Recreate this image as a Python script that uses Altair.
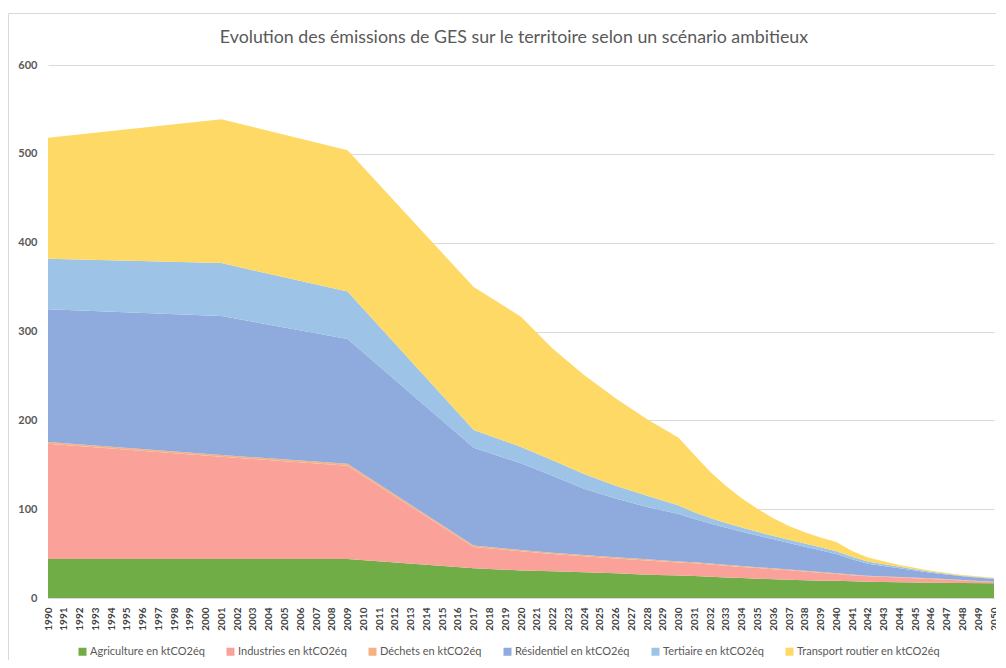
import altair as alt
import pandas as pd

years = [1990, 2001, 2009, 2017, 2020, 2022, 2024, 2026, 2028, 2030, 2031, 2032, 2033,
         2034, 2035, 2036, 2037, 2038, 2039, 2040, 2041, 2042, 2044, 2046, 2048, 2050]

agriculture = [44, 44, 44, 33.5, 31, 30, 29, 27.8, 26.2, 25.3, 24.8, 24, 23.2,
               22.5, 21.8, 21, 20.5, 19.9, 19.5, 19.3, 18.8, 18.2, 17.6, 17.3, 16.9, 16.5]
industries = [129.5, 115, 105, 24, 21.5, 19.5, 18, 16.6, 16, 14.7, 14.2, 13.7, 13.1,
              12.4, 11.9, 11.4, 10.6, 10, 8.9, 7.7, 6.8, 6.2, 5.4, 4.2, 2.9, 1.4]
dechets = [2, 2, 2, 1.5, 1.5, 1.5, 1.4, 1.4, 1.3, 1.2, 1.2, 1.1, 1.1,
           1.1, 1.0, 1.0, 1.0, 0.9, 0.9, 0.8, 0.8, 0.7, 0.6, 0.6, 0.5, 0.5]
residentiel = [149.5, 156.5, 140.5, 110, 97.6, 86.5, 74.6, 66.2, 59, 53.3, 48.8, 45.2, 41.6,
               38.7, 35.6, 32.6, 29.9, 27, 24.5, 21.7, 17.1, 13.4, 9.8, 6.4, 4.1, 3.0]
tertiaire = [57, 59.5, 53.5, 20, 18.5, 17.5, 16.5, 14.5, 12.5, 9.5, 7.5, 6, 5.3,
             4.8, 4.3, 3.8, 3.6, 3.5, 3.3, 3, 2.8, 2.5, 1.9, 1.1, 0.7, 0.7]
transport = [136, 162, 159, 161, 146.6, 126, 111.5, 98.3, 86.2, 76.3, 64.5, 52.2, 41.7,
             32.7, 25.9, 19.9, 15.4, 12.6, 10.9, 10.5, 6.7, 4.5, 1.9, 1.2, 0.8, 0.8]

series_names = [
    "Agriculture en ktCO2éq",
    "Industries en ktCO2éq",
    "Déchets en ktCO2éq",
    "Résidentiel en ktCO2éq",
    "Tertiaire en ktCO2éq",
    "Transport routier en ktCO2éq",
]
series_values = [agriculture, industries, dechets, residentiel, tertiaire, transport]
colors = ["#70AD47", "#FAA19A", "#F4B183", "#8FAADC", "#9DC3E6", "#FFD966"]

title_text = "Evolution des émissions de GES sur le territoire selon un scénario ambitieux"
year_ticks = list(range(1990, 2051))
y_ticks = [0, 100, 200, 300, 400, 500, 600]

rows = []
for i, (name, vals) in enumerate(zip(series_names, series_values)):
    for yr, v in zip(years, vals):
        rows.append({"annee": yr, "secteur": name, "valeur": v, "idx": i})
df = pd.DataFrame(rows)

FONT = "Lato, sans-serif"

areas = alt.Chart(df).mark_area(interpolate="linear").encode(
    x=alt.X("annee:Q",
            scale=alt.Scale(domain=[1990, 2050], nice=False, zero=False),
            axis=alt.Axis(values=year_ticks, format="d", labelAngle=270,
                          labelAlign="right", labelBaseline="middle",
                          labelFontSize=10, labelColor="#404040", labelPadding=9,
                          ticks=False, grid=False, domainColor="#d9d9d9",
                          labelOverlap=False, labelFlush=False, title=None,
                          labelFont=FONT, labelFontWeight="bold")),
    y=alt.Y("valeur:Q", stack="zero",
            scale=alt.Scale(domain=[0, 600], nice=False),
            axis=alt.Axis(values=y_ticks, grid=True, gridColor="#d9d9d9",
                          domain=False, ticks=False, labelPadding=11,
                          labelFontSize=11, labelColor="#595959", title=None,
                          labelFont=FONT, labelFontWeight="bold")),
    color=alt.Color("secteur:N",
                    scale=alt.Scale(domain=series_names, range=colors),
                    legend=alt.Legend(orient="none", legendX=29, legendY=581,
                                      direction="horizontal", symbolType="square",
                                      symbolSize=64, symbolStrokeWidth=0,
                                      labelFontSize=11, labelColor="#595959",
                                      labelFont=FONT, columnPadding=20,
                                      labelOffset=2, title=None)),
    order=alt.Order("idx:Q", sort="ascending"),
)

frame = alt.Chart(alt.Data(values=[{}])).mark_rect(
    fill=None, stroke="#d9d9d9", strokeWidth=1
).encode(
    x=alt.value(-39.5), x2=alt.value(3000),
    y=alt.value(-51.5), y2=alt.value(3000),
)

title = alt.Chart(alt.Data(values=[{"t": title_text}])).mark_text(
    font=FONT, fontSize=17.8, color="#595959", align="center", baseline="alphabetic"
).encode(
    text="t:N", x=alt.value(466), y=alt.value(-22),
)

chart = alt.layer(frame, areas, title).properties(
    width=946,
    height=533,
    padding={"left": 40, "top": 57, "right": 2, "bottom": 62},
    autosize=alt.AutoSizeParams(type="none"),
).configure_view(strokeWidth=0)

chart.save("out.html", embed_options={"renderer": "svg", "actions": False})
